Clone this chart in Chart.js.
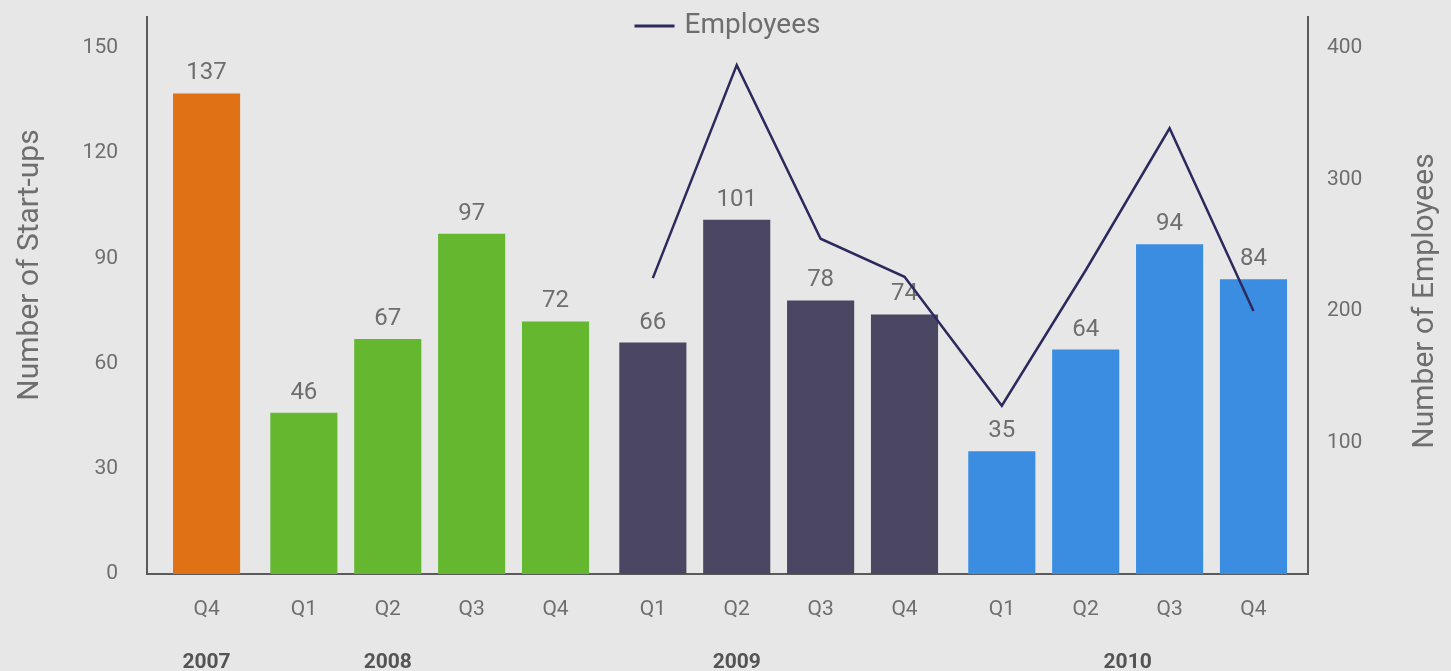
<!DOCTYPE html>
<html>
<head>
<meta charset="utf-8">
<title>Start-ups and Employees</title>
<script src="https://cdn.jsdelivr.net/npm/chart.js@4.4.0/dist/chart.umd.min.js"></script>
<style>
  html, body { margin: 0; padding: 0; background: #e7e7e7; }
  #wrap { width: 1451px; height: 671px; }
</style>
</head>
<body>
<div id="wrap"><canvas id="chart" width="1451" height="671"></canvas></div>
<script>
// ---- data ----
const quarters  = ["Q4", "Q1", "Q2", "Q3", "Q4", "Q1", "Q2", "Q3", "Q4", "Q1", "Q2", "Q3", "Q4"];
const years     = ["2007", "2008", "2008", "2008", "2008", "2009", "2009", "2009", "2009", "2010", "2010", "2010", "2010"];
const startups  = [137, 46, 67, 97, 72, 66, 101, 78, 74, 35, 64, 94, 84];
const employees = [null, null, null, null, null, 225, 387, 255, 226, 128, 231, 339, 200];

const yearLabels  = ["2007", "2008", "2009", "2010"];
const yearColors  = ["#e07114", "#64b72f", "#4b4661", "#3a8de0"];
// where each year caption sits, in bar-index units
const yearLabelAt = [0, 2, 6, 10.5];

const startupTicks  = [0, 30, 60, 90, 120, 150];
const employeeTicks = [100, 200, 300, 400];

// ---- look ----
const FONT = "Roboto, 'DejaVu Sans', sans-serif";
const TICK_COLOR = "#6e6e6e";
const AXIS_COLOR = "#5a5a5a";
const LINE_COLOR = "#2c2a5c";

// bars are grouped by year with a little extra room between groups
const GROUP_GAP = 0.16;
const groupOf = (i) => yearLabels.indexOf(years[Math.floor(i)]);
const xPos = (i) => i + GROUP_GAP * groupOf(i);

const X_MIN = -0.71, X_MAX = 13.13;

// no overflow padding around the axes: the frame sits exactly where the layout puts it
const noPad = (s) => { s.paddingTop = 0; s.paddingBottom = 0; s.paddingLeft = 0; s.paddingRight = 0; };

// value labels above the bars (drawn before the line so it passes over them)
const barValueLabels = {
  id: "barValueLabels",
  afterDatasetDraw(chart, args) {
    if (args.index !== 1) return;
    const { ctx } = chart;
    ctx.save();
    ctx.font = `24px ${FONT}`;
    ctx.fillStyle = TICK_COLOR;
    ctx.textAlign = "center";
    ctx.textBaseline = "bottom";
    args.meta.data.forEach((bar, i) => {
      ctx.fillText(String(startups[i]), bar.x, bar.y - 8);
    });
    ctx.restore();
  },
};

function verticalTitle(ctx, text, x, y) {
  ctx.save();
  ctx.translate(x, y);
  ctx.rotate(-Math.PI / 2);
  ctx.textAlign = "center";
  ctx.textBaseline = "middle";
  ctx.fillText(text, 0, 0);
  ctx.restore();
}

// single legend entry centred over the plot, inside the top of the frame,
// and both axis titles reading bottom-to-top
const extras = {
  id: "extras",
  afterDraw(chart) {
    const { ctx, chartArea } = chart;
    const ds = chart.data.datasets[0];
    ctx.save();
    ctx.font = `28px ${FONT}`;
    const tw = ctx.measureText(ds.label).width;
    const lineW = 40, gap = 10;
    const x0 = (chartArea.left + chartArea.right) / 2 - (lineW + gap + tw) / 2;
    const y = 26;
    ctx.strokeStyle = ds.borderColor;
    ctx.lineWidth = 3;
    ctx.beginPath();
    ctx.moveTo(x0, y);
    ctx.lineTo(x0 + lineW, y);
    ctx.stroke();
    ctx.fillStyle = TICK_COLOR;
    ctx.textBaseline = "middle";
    ctx.fillText(ds.label, x0 + lineW + gap, y);

    ctx.font = `30px ${FONT}`;
    verticalTitle(ctx, "Number of Start-ups", 30, chartArea.top + 248);
    verticalTitle(ctx, "Number of Employees", chart.width - 26, chartArea.top + 284);
    ctx.restore();
  },
};

const ctx = document.getElementById("chart").getContext("2d");

new Chart(ctx, {
  type: "bar",
  data: {
    datasets: [
      {
        type: "line",
        label: "Employees",
        data: employees.map((v, i) => ({ x: xPos(i), y: v })),
        borderColor: LINE_COLOR,
        borderWidth: 2.5,
        pointRadius: 0,
        tension: 0,
        yAxisID: "yEmp",
        xAxisID: "x",
        order: 0,
      },
      {
        type: "bar",
        label: "Number of Start-ups",
        data: startups.map((v, i) => ({ x: xPos(i), y: v })),
        backgroundColor: startups.map((_, i) => yearColors[groupOf(i)]),
        barPercentage: 0.8,
        categoryPercentage: 1,
        yAxisID: "y",
        xAxisID: "x",
        order: 1,
      },
    ],
  },
  options: {
    responsive: false,
    animation: false,
    devicePixelRatio: 1,
    layout: { padding: { top: 17, left: 0, right: 0, bottom: 0 } },
    plugins: { legend: { display: false }, tooltip: { enabled: false } },
    scales: {
      x: {
        type: "linear",
        position: "bottom",
        min: X_MIN,
        max: X_MAX,
        offset: false,
        grid: { display: false, drawTicks: false },
        border: { display: true, color: AXIS_COLOR, width: 2 },
        afterBuildTicks: (s) => { s.ticks = quarters.map((_, i) => ({ value: xPos(i) })); },
        ticks: {
          autoSkip: false,
          maxRotation: 0,
          padding: 23,
          color: TICK_COLOR,
          font: { family: FONT, size: 21 },
          callback: (v, idx) => quarters[idx],
        },
        afterFit: (s) => { s.height = 56; noPad(s); },
      },
      xYear: {
        type: "linear",
        position: "bottom",
        min: X_MIN,
        max: X_MAX,
        offset: false,
        grid: { display: false, drawTicks: false },
        border: { display: false },
        afterBuildTicks: (s) => { s.ticks = yearLabelAt.map((a) => ({ value: xPos(a) })); },
        ticks: {
          autoSkip: false,
          maxRotation: 0,
          padding: 20,
          color: "#545454",
          font: { family: FONT, size: 21, weight: "bold" },
          callback: (v, idx) => yearLabels[idx],
        },
        afterFit: (s) => { s.height = 41; noPad(s); },
      },
      y: {
        position: "left",
        min: 0,
        max: 158.8,
        grid: { display: false, drawTicks: false },
        border: { display: true, color: AXIS_COLOR, width: 2 },
        afterBuildTicks: (s) => { s.ticks = startupTicks.map((v) => ({ value: v })); },
        ticks: { padding: 29, color: TICK_COLOR, font: { family: FONT, size: 21 } },
        afterFit: (s) => { s.width = 147; noPad(s); },
      },
      yEmp: {
        position: "right",
        min: 0,
        max: 423.6,
        grid: { display: false, drawTicks: false },
        border: { display: true, color: AXIS_COLOR, width: 2 },
        afterBuildTicks: (s) => { s.ticks = employeeTicks.map((v) => ({ value: v })); },
        ticks: { padding: 19, color: TICK_COLOR, font: { family: FONT, size: 21 } },
        afterFit: (s) => { s.width = 143; noPad(s); },
      },
    },
  },
  plugins: [barValueLabels, extras],
});
</script>
</body>
</html>
